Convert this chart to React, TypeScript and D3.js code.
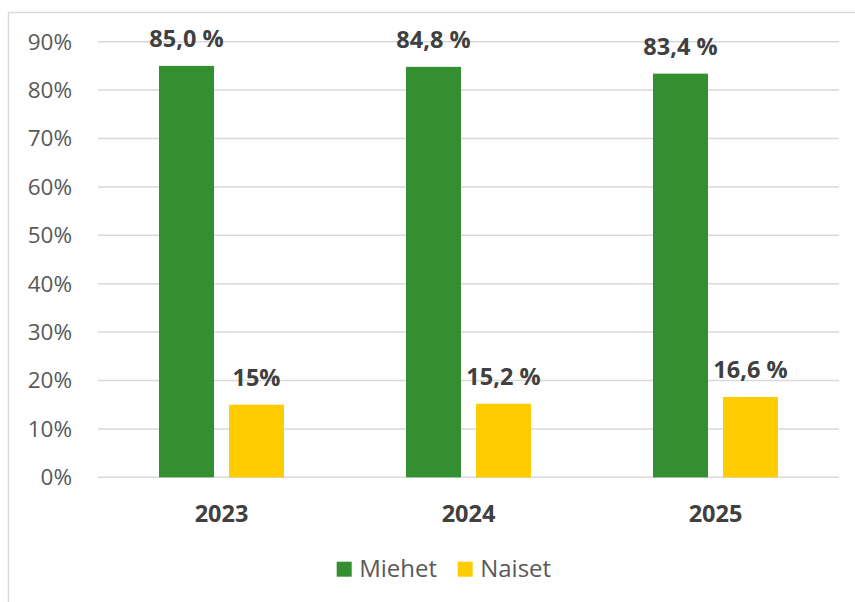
import React from "react";
import * as d3 from "d3";

const years = ["2023", "2024", "2025"];
const seriesNames = ["Miehet", "Naiset"];
const miehet = [85.0, 84.8, 83.4];
const naiset = [15, 15.2, 16.6];
const miehetLabels = ["85,0 %", "84,8 %", "83,4 %"];
const naisetLabels = ["15%", "15,2 %", "16,6 %"];
const yTicks = [0, 10, 20, 30, 40, 50, 60, 70, 80, 90];
const colors = ["#348f30", "#ffcc00"];

export default function App() {
  const W = 855, H = 602;
  const left = 98, right = 839, top = 41.7, bottom = 477.3;
  const x = d3.scaleBand<string>().domain(years).range([left, right]).padding(0);
  const inner = d3
    .scaleBand<string>()
    .domain(seriesNames)
    .range([61, 186])
    .paddingInner(0.2143)
    .paddingOuter(0);
  const y = d3.scaleLinear().domain([0, 90]).range([bottom, top]);
  const data = [miehet, naiset];
  const labels = [miehetLabels, naisetLabels];
  const font = "'Open Sans', sans-serif";

  return (
    <svg
      width={W}
      height={H}
      style={{ position: "absolute", left: 0, top: 0, background: "#fff" }}
      fontFamily={font}
    >
      <rect x={8.5} y={12.5} width={900} height={700} fill="#fff" stroke="#d9d9d9" strokeWidth={1.5} />
      {yTicks.map((t) => (
        <g key={t}>
          <line x1={left} x2={right} y1={y(t)} y2={y(t)} stroke="#d9d9d9" strokeWidth={1.5} />
          <text x={72} y={y(t)} dy="0.35em" textAnchor="end" fontSize={22.5} fill="#595959">
            {t}%
          </text>
        </g>
      ))}
      {seriesNames.map((s, si) =>
        years.map((yr, i) => {
          const bx = (x(yr) ?? 0) + (inner(s) ?? 0);
          const v = data[si][i];
          return (
            <g key={s + yr}>
              <rect x={bx} y={y(v)} width={inner.bandwidth()} height={bottom - y(v)} fill={colors[si]} />
              <text
                x={bx + inner.bandwidth() / 2}
                y={y(v) - 18.5}
                textAnchor="middle"
                fontSize={23.5}
                fontWeight="bold"
                fill="#404040"
              >
                {labels[si][i]}
              </text>
            </g>
          );
        })
      )}
      {years.map((yr) => (
        <text
          key={yr}
          x={(x(yr) ?? 0) + x.bandwidth() / 2}
          y={521.5}
          textAnchor="middle"
          fontSize={23.5}
          fontWeight="bold"
          fill="#404040"
        >
          {yr}
        </text>
      ))}
      {seriesNames.map((s, si) => {
        const lx = [336.7, 457.7][si];
        return (
          <g key={s}>
            <rect x={lx} y={561.7} width={15} height={15} fill={colors[si]} />
            <text x={lx + 22.5} y={576.5} fontSize={24} fill="#595959">
              {s}
            </text>
          </g>
        );
      })}
    </svg>
  );
}
